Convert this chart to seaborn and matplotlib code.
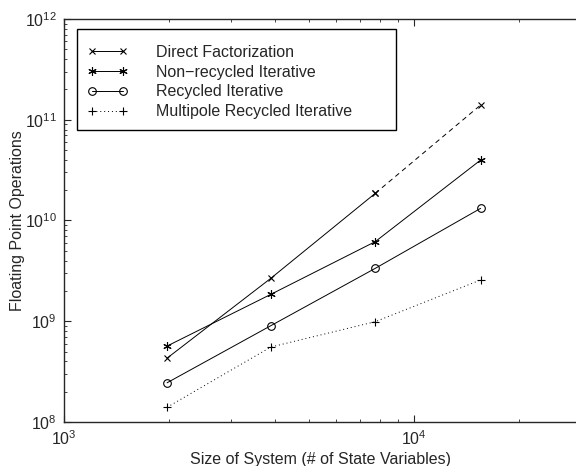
import numpy as np
import pandas as pd
import matplotlib
matplotlib.use("Agg")
import matplotlib.pyplot as plt
import seaborn as sns

# ── Datos ──────────────────────────────────────────────────────────
size = [1970, 3900, 7750, 15500]
direct = [4.3e8, 2.67e9, 1.86e10, 1.40e11]
nonrecycled = [5.67e8, 1.85e9, 6.17e9, 3.98e10]
recycled = [2.45e8, 9.04e8, 3.35e9, 1.32e10]
multipole = [1.40e8, 5.55e8, 9.9e8, 2.57e9]

labels = ["Direct Factorization", "Non\u2212recycled Iterative",
          "Recycled Iterative", "Multipole Recycled Iterative"]

# ── Estilo ──────────────────────────────────────────────────────────
sns.set_style("ticks")
plt.rcParams["font.family"] = ["Liberation Sans", "DejaVu Sans"]
plt.rcParams.update({
    "font.size": 11.5,
    "xtick.direction": "in",
    "ytick.direction": "in",
    "xtick.top": True,
    "ytick.right": False,
    "axes.linewidth": 1.0,
})

fig = plt.figure(figsize=(5.76, 4.66), dpi=100)
ax = fig.add_axes([64 / 576, 44 / 466, 512 / 576, 403 / 466])

common = dict(ax=ax, color="k", lw=0.7, mec="k", mew=0.8)

# Direct factorization: sólido en los 3 primeros puntos, guiones en el extrapolado
sns.lineplot(x=size[:3], y=direct[:3], marker="x", ms=5, label=labels[0], **common)
sns.lineplot(x=size[2:], y=direct[2:], marker="x", ms=5, linestyle=(0, (5, 4)),
             legend=False, **common)
sns.lineplot(x=size, y=nonrecycled, marker=(6, 2, 0), ms=6, label=labels[1], **common)
sns.lineplot(x=size, y=recycled, marker="o", ms=5.5, mfc="none",
             label=labels[2], **common)
sns.lineplot(x=size, y=multipole, marker="+", ms=6, linestyle=(0, (1, 3)),
             label=labels[3], **common)

ax.set_xscale("log")
ax.set_yscale("log")
ax.set_xlim(1e3, 10 ** (3 + 512 / 350))
ax.set_ylim(1e8, 1e12)

ax.tick_params(which="major", length=5, width=0.8, labelsize=11.5, pad=5)
ax.tick_params(which="minor", length=2.5, width=0.6)
ax.spines["right"].set_visible(False)

ax.set_xlabel("Size of System (# of State Variables)", fontsize=11.5)
ax.set_ylabel("Floating Point Operations", fontsize=11.5)
ax.xaxis.set_label_coords(0.5, -0.075)
ax.yaxis.set_label_coords(-0.076, 0.5)

# título casi vacío para dar más margen arriba (como en MATLAB)
leg = ax.legend(loc="upper left",
                bbox_to_anchor=(13 / 512, 0.976, 319 / 512, 0.0),
                mode="expand", borderaxespad=0, numpoints=2, fancybox=False,
                framealpha=1, edgecolor="k", handlelength=2.55,
                handletextpad=1.75, labelspacing=0.3,
                borderpad=0.65, fontsize=11.5, title=" ", title_fontsize=1)
leg.get_frame().set_linewidth(1.0)

plt.savefig("out.png", dpi=100)
